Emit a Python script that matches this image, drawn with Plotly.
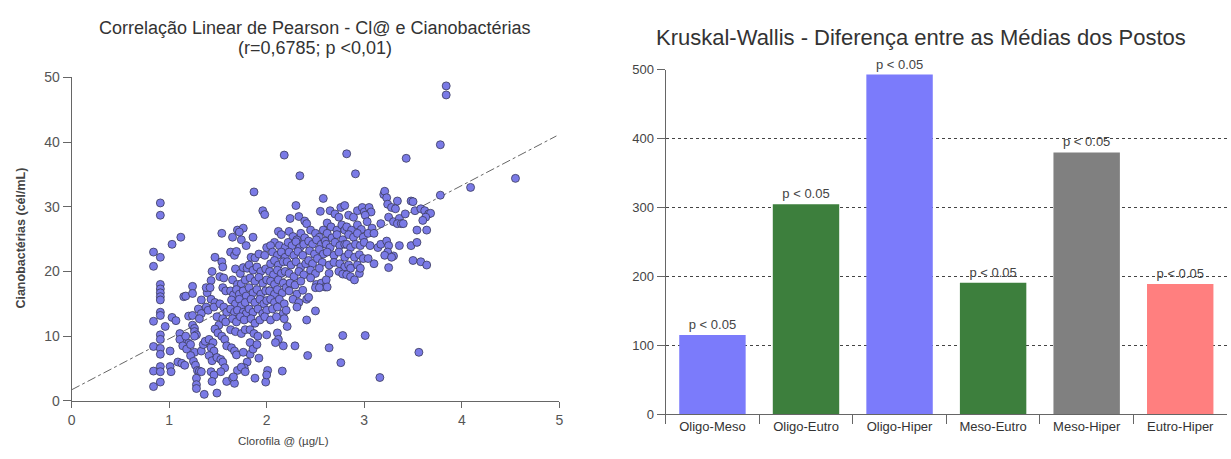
import plotly.graph_objects as go

# --- Correlação: clorofila-a (µg/L) x cianobactérias (cél/mL) ---
clorofila_cianobacterias = [
    (3.84, 48.7), (3.84, 47.3), (3.78, 39.6), (3.43, 37.5), (2.18, 38.0), (2.82, 38.2),
    (2.34, 34.8), (2.91, 35.1), (4.55, 34.4), (4.09, 33.0), (3.78, 31.8), (1.87, 32.3),
    (0.91, 30.6), (0.91, 28.7), (0.84, 23.0), (0.91, 22.2), (0.84, 20.8), (1.03, 24.2), (1.12, 25.3),
    (0.91, 18.0), (0.91, 17.3), (0.91, 16.7), (0.91, 16.1), (0.91, 15.6), (0.91, 13.7), (0.91, 13.2),
    (0.84, 12.3), (0.96, 11.5), (1.03, 12.9), (1.07, 12.4),
    (0.91, 10.2), (0.91, 9.5), (0.84, 8.4), (0.91, 8.1), (0.91, 7.2), (1.01, 7.7), (0.91, 5.3),
    (0.84, 4.6), (0.91, 4.5), (1.01, 5.3), (1.02, 4.5), (0.91, 2.9), (0.84, 2.2),
    (3.56, 7.5), (3.16, 3.6), (2.78, 10.1), (3.01, 10.1), (2.76, 5.9), (2.64, 8.2), (2.42, 7.0),
    (2.41, 12.5), (2.50, 13.9), (2.29, 8.5), (2.17, 8.5), (2.16, 4.6), (1.99, 2.9), (2.01, 4.7),
    (2.00, 4.0), (1.88, 3.5), (1.92, 6.6), (1.83, 7.2), (1.80, 6.0), (1.77, 5.1),
    # 1.0 - 1.4
    (1.11, 10.4), (1.14, 9.5), (1.11, 9.5), (1.20, 8.9), (1.17, 10.0), (1.09, 6.0), (1.13, 5.8),
    (1.16, 5.5), (1.15, 16.1), (1.17, 16.2), (1.20, 13.1), (1.14, 8.5), (1.18, 8.0), (1.22, 8.7),
    (1.26, 7.5), (1.24, 17.7), (1.24, 16.6), (1.24, 13.2), (1.24, 11.7), (1.26, 11.2), (1.26, 10.7),
    (1.28, 10.2), (1.26, 10.0), (1.33, 15.6), (1.30, 14.2), (1.33, 13.5), (1.31, 12.7), (1.22, 7.0),
    (1.25, 6.1), (1.27, 5.5), (1.29, 4.7), (1.28, 3.5), (1.28, 2.5), (1.28, 1.9), (1.33, 7.7),
    (1.35, 8.7), (1.37, 9.2), (1.31, 4.6), (1.33, 4.5), (1.36, 1.0), (1.39, 16.7), (1.38, 17.5),
    (1.38, 14.5), (1.40, 14.0),
    # 1.4 - 1.6
    (1.44, 20.0), (1.47, 22.2), (1.43, 18.6), (1.42, 17.5), (1.43, 15.7), (1.47, 15.2), (1.46, 14.5),
    (1.49, 13.0), (1.51, 11.7), (1.47, 11.1), (1.50, 10.5), (1.41, 9.5), (1.45, 9.0), (1.43, 8.2),
    (1.46, 7.7), (1.41, 7.0), (1.44, 6.2), (1.49, 6.7), (1.53, 6.4), (1.43, 4.5), (1.46, 4.0),
    (1.44, 3.0), (1.49, 1.2), (1.54, 25.9), (1.54, 21.5), (1.55, 20.7), (1.52, 19.2), (1.56, 19.0),
    (1.55, 17.5), (1.58, 17.0), (1.52, 15.0), (1.56, 14.5), (1.59, 13.7), (1.55, 12.7), (1.58, 12.2),
    (1.54, 10.0), (1.57, 9.5), (1.59, 8.5), (1.55, 6.0), (1.57, 5.1), (1.53, 4.5), (1.59, 3.0),
    # 1.6 - 1.8
    (1.65, 25.3), (1.70, 26.4), (1.76, 26.7), (1.72, 26.1), (1.74, 24.9), (1.79, 24.0), (1.63, 23.0),
    (1.67, 22.5), (1.69, 23.1), (1.68, 20.4), (1.73, 19.7), (1.76, 20.6), (1.80, 20.5), (1.65, 18.7),
    (1.70, 18.0), (1.74, 18.1), (1.78, 18.7), (1.63, 17.0), (1.66, 16.4), (1.69, 17.2), (1.72, 16.5),
    (1.76, 17.0), (1.79, 16.2), (1.64, 15.6), (1.68, 15.0), (1.72, 15.7), (1.74, 14.7), (1.78, 15.2),
    (1.63, 14.2), (1.67, 13.7), (1.70, 14.0), (1.76, 13.7), (1.79, 13.5), (1.65, 12.7), (1.69, 12.2),
    (1.73, 13.0), (1.77, 12.5), (1.63, 11.0), (1.68, 10.7), (1.74, 10.4), (1.78, 11.0), (1.64, 8.2),
    (1.67, 7.7), (1.69, 7.1), (1.76, 7.5), (1.65, 3.5), (1.67, 2.7), (1.70, 4.7), (1.74, 5.2),
    (1.78, 4.5), (1.66, 3.7),
    # 1.8 - 2.0
    (1.96, 29.4), (1.98, 28.8), (1.86, 25.3), (1.84, 22.2), (1.88, 22.1), (1.92, 22.7), (1.98, 22.5),
    (2.00, 23.7), (1.82, 21.0), (1.86, 20.2), (1.90, 20.7), (1.94, 20.0), (1.99, 20.4), (1.83, 19.0),
    (1.88, 18.5), (1.92, 19.1), (1.96, 18.2), (2.00, 18.7), (1.82, 17.5), (1.86, 16.7), (1.90, 17.2),
    (1.94, 16.5), (1.99, 17.0), (1.84, 15.7), (1.88, 15.2), (1.93, 15.7), (1.97, 15.0), (2.00, 15.5),
    (1.82, 14.2), (1.86, 13.7), (1.91, 14.2), (1.96, 13.5), (2.00, 14.0), (1.84, 12.7), (1.88, 12.0),
    (1.93, 12.5), (1.98, 13.0), (1.83, 11.0), (1.87, 10.4), (1.91, 10.0), (2.00, 10.2), (1.83, 9.0),
    (1.86, 8.0), (1.90, 8.7),
    # 2.0 - 2.2
    (2.12, 26.2), (2.15, 25.7), (2.08, 24.5), (2.04, 24.0), (2.13, 24.0), (2.19, 23.7), (2.06, 23.0),
    (2.11, 22.5), (2.15, 23.0), (2.19, 22.2), (2.04, 21.2), (2.08, 21.7), (2.12, 21.0), (2.17, 21.5),
    (2.03, 20.0), (2.07, 19.5), (2.11, 20.2), (2.15, 19.7), (2.19, 20.0), (2.04, 18.5), (2.08, 18.0),
    (2.12, 18.7), (2.17, 18.2), (2.03, 17.0), (2.08, 16.5), (2.11, 17.2), (2.16, 16.7), (2.20, 17.5),
    (2.04, 15.7), (2.08, 15.2), (2.13, 15.7), (2.18, 15.0), (2.06, 14.2), (2.11, 14.5), (2.17, 13.5),
    (2.20, 14.0), (2.04, 12.5), (2.10, 13.0), (2.18, 12.7), (2.21, 11.5), (2.11, 10.5), (2.12, 9.5),
    (2.09, 9.0),
    # 2.2 - 2.4
    (2.30, 30.2), (2.33, 28.5), (2.24, 28.2), (2.39, 27.8), (2.41, 27.4), (2.23, 26.2), (2.27, 25.4),
    (2.31, 24.9), (2.35, 25.9), (2.39, 25.2), (2.22, 24.5), (2.26, 24.0), (2.30, 24.6), (2.34, 23.7),
    (2.38, 24.2), (2.23, 23.0), (2.28, 22.5), (2.32, 23.1), (2.37, 22.5), (2.21, 21.5), (2.25, 21.0),
    (2.30, 21.5), (2.35, 20.7), (2.40, 21.2), (2.23, 19.7), (2.28, 19.2), (2.33, 20.0), (2.38, 19.5),
    (2.24, 18.2), (2.29, 17.9), (2.35, 18.5), (2.23, 17.0), (2.31, 16.5), (2.37, 17.1), (2.27, 15.7),
    (2.33, 15.2), (2.31, 14.5), (2.41, 15.7), (2.43, 16.0),
    # 2.4 - 2.6
    (2.58, 31.3), (2.55, 29.3), (2.45, 26.4), (2.50, 25.9), (2.54, 25.3), (2.58, 26.4), (2.43, 24.7),
    (2.47, 24.2), (2.51, 24.9), (2.56, 24.2), (2.60, 24.7), (2.44, 23.2), (2.49, 22.7), (2.54, 23.4),
    (2.58, 22.7), (2.43, 21.7), (2.47, 21.2), (2.52, 22.0), (2.57, 21.4), (2.45, 20.2), (2.50, 19.7),
    (2.54, 20.5), (2.45, 19.0), (2.51, 18.0), (2.56, 18.2), (2.60, 17.6), (2.50, 17.5), (2.54, 17.5),
    # 2.6 - 2.8
    (2.65, 29.4), (2.70, 28.9), (2.76, 29.9), (2.80, 30.2), (2.74, 28.4), (2.62, 27.5), (2.66, 26.9),
    (2.72, 26.4), (2.77, 27.2), (2.80, 26.4), (2.62, 25.9), (2.67, 25.2), (2.72, 25.7), (2.78, 24.9),
    (2.61, 24.2), (2.65, 23.7), (2.70, 24.5), (2.75, 24.0), (2.80, 24.2), (2.62, 23.0), (2.69, 22.5),
    (2.74, 23.0), (2.80, 22.2), (2.64, 21.0), (2.69, 21.4), (2.75, 21.2), (2.80, 20.7), (2.64, 19.7),
    (2.74, 20.0), (2.78, 19.6), (2.61, 18.7), (2.62, 17.6),
    # 2.8 - 3.0
    (2.84, 28.7), (2.89, 28.4), (2.93, 29.4), (2.98, 29.9), (3.00, 29.2), (2.82, 26.9), (2.87, 26.4),
    (2.93, 27.2), (2.97, 26.5), (2.84, 25.7), (2.89, 25.3), (2.93, 25.9), (2.99, 25.3), (2.82, 24.2),
    (2.86, 23.7), (2.91, 24.2), (2.96, 24.0), (3.00, 24.5), (2.84, 22.7), (2.90, 22.2), (2.95, 22.6),
    (2.99, 22.0), (2.84, 21.0), (2.86, 20.5), (2.93, 21.0), (2.82, 19.5), (2.86, 19.2), (2.90, 18.7),
    (2.95, 19.7), (2.96, 20.5),
    # 3.0 - 3.4
    (3.05, 29.9), (3.07, 29.2), (3.01, 28.7), (3.03, 27.7), (3.08, 26.7), (3.04, 25.9), (3.06, 24.0),
    (3.10, 25.9), (3.14, 23.7), (3.17, 24.2), (3.10, 21.2), (3.04, 22.0), (3.20, 31.9), (3.21, 32.4),
    (3.17, 27.4), (3.23, 31.4), (3.24, 30.4), (3.28, 29.9), (3.32, 29.7), (3.34, 30.9), (3.25, 28.4),
    (3.30, 27.7), (3.36, 28.2), (3.23, 24.7), (3.25, 24.0), (3.36, 24.0), (3.24, 23.0), (3.21, 22.5),
    (3.30, 22.4), (3.28, 22.2), (3.25, 20.6), (3.34, 27.4), (3.38, 27.4),
    # 3.4 - 3.7
    (3.48, 30.9), (3.50, 30.8), (3.52, 29.4), (3.58, 29.7), (3.42, 28.9), (3.40, 27.4), (3.54, 26.4),
    (3.62, 29.4), (3.66, 28.9), (3.68, 29.0), (3.63, 28.4), (3.60, 27.9), (3.64, 26.4), (3.48, 24.0),
    (3.54, 24.5), (3.50, 21.7), (3.58, 21.5), (3.64, 21.0),
]
clorofila = [p[0] for p in clorofila_cianobacterias]
cianobacterias = [p[1] for p in clorofila_cianobacterias]

# reta de regressão (r = 0,6785)
reg_intercepto = 1.7
reg_inclinacao = 7.9
reg_x = [0.0, 4.97]

# --- Kruskal-Wallis ---
grupos = ["Oligo-Meso", "Oligo-Eutro", "Oligo-Hiper", "Meso-Eutro", "Meso-Hiper", "Eutro-Hiper"]
dif_postos = [115, 305, 493, 191, 380, 189]
rotulos = ["p < 0.05"] * 6
cores = ["#7b7bfb", "#3d7f3d", "#7b7bfb", "#3d7f3d", "#808080", "#ff7f7f"]

FONT = "Liberation Sans, Arial, sans-serif"
W, H = 1231, 459
fig = go.Figure()

fig.add_trace(go.Scatter(
    x=reg_x, y=[reg_intercepto + reg_inclinacao * v for v in reg_x],
    mode="lines", line=dict(color="#666666", width=1, dash="dashdot"),
    xaxis="x", yaxis="y", showlegend=False, hoverinfo="skip",
))
fig.add_trace(go.Scatter(
    x=clorofila, y=cianobacterias, mode="markers",
    marker=dict(size=8, color="#7a7ae6", line=dict(color="#3a3a5a", width=0.8)),
    xaxis="x", yaxis="y", showlegend=False,
))
fig.add_trace(go.Bar(
    x=grupos, y=dif_postos, text=rotulos, textposition="outside",
    textfont=dict(family=FONT, size=13, color="#444444"),
    marker=dict(color=cores, line=dict(width=0)), width=0.71,
    cliponaxis=False, xaxis="x2", yaxis="y2", showlegend=False,
))

axis_common = dict(showline=True, linecolor="#666666", linewidth=1, ticks="outside",
                   tickcolor="#666666", zeroline=False, showgrid=False)


def label(text, px, py, size, color="#333333", angle=0):
    return dict(text=text, x=px / W, y=(H - py) / H, xref="paper", yref="paper",
                xanchor="center", yanchor="middle", showarrow=False, textangle=angle,
                font=dict(size=size, color=color))


fig.update_layout(
    width=W, height=H,
    margin=dict(l=0, r=0, t=0, b=0),
    paper_bgcolor="white", plot_bgcolor="white",
    font=dict(family=FONT, color="#444444"),
    xaxis=dict(domain=[68 / W, 559 / W], range=[0, 5], tickvals=[0, 1, 2, 3, 4, 5],
               ticklen=6, tickfont=dict(size=14, color="#555555"), anchor="y", **axis_common),
    yaxis=dict(domain=[(H - 407) / H, (H - 72) / H], range=[0, 50],
               tickvals=[0, 10, 20, 30, 40, 50], ticklen=8,
               tickfont=dict(size=14, color="#555555"), anchor="x", **axis_common),
    xaxis2=dict(domain=[666 / W, 1.0], anchor="y2", tickson="boundaries", ticklen=9,
                tickfont=dict(size=13, color="#333333"), showline=True, linecolor="#666666",
                ticks="outside", tickcolor="#666666", showgrid=False, zeroline=False),
    yaxis2=dict(domain=[(H - 421) / H, (H - 64) / H], range=[0, 500],
                tickvals=[0, 100, 200, 300, 400, 500], ticklen=8, anchor="x2",
                tickfont=dict(size=13, color="#444444"), showline=True, linecolor="#666666",
                ticks="outside", tickcolor="#666666", zeroline=False,
                showgrid=True, gridcolor="#444444", griddash="dot", gridwidth=1),
    annotations=[
        label("Correlação Linear de Pearson - Cl@ e Cianobactérias", 313, 21, 18),
        label("(r=0,6785; p <0,01)", 313, 41, 18),
        label("<b>Cianobactérias (cél/mL)</b>", 17, 238, 12.5, "#444444", -90),
        label("Clorofila @ (µg/L)", 281, 449, 11.5, "#444444"),
        label("Kruskal-Wallis - Diferença entre as Médias dos Postos", 923, 31, 22),
    ],
)

fig.write_html("out.html")
